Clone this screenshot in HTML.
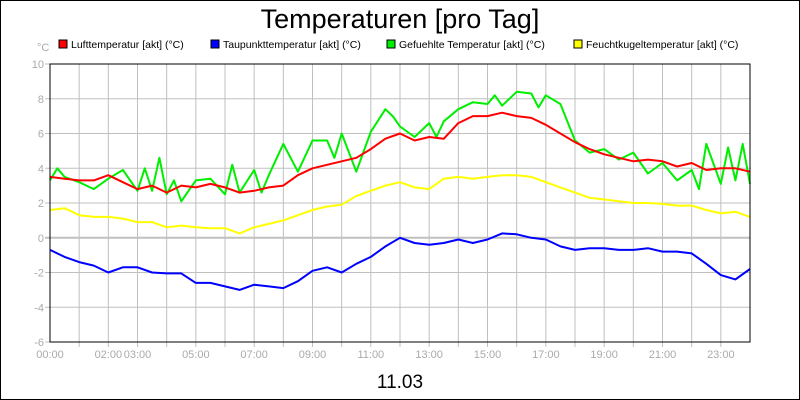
<!DOCTYPE html>
<html><head><meta charset="utf-8"><style>
html,body{margin:0;padding:0;background:#fff}
svg{display:block;font-family:"Liberation Sans",sans-serif}
</style></head><body>
<svg width="800" height="400" id="c">
<rect x="0.5" y="0.5" width="799" height="399" fill="#fff" stroke="#000"/>
<text x="400" y="28" font-size="27" text-anchor="middle">Temperaturen [pro Tag]</text>
<text x="400" y="388" font-size="19" text-anchor="middle">11.03</text>
<text x="37" y="51" font-size="11" fill="#aaa">°C</text>
<g id="grid"></g>
<g id="ticks"></g>
<g id="series"></g>
<rect x="50" y="64" width="700" height="278" fill="none" stroke="#000"/>
<g id="legend"></g>
</svg>
<script>
const yTicks=[10,8,6,4,2,0,-2,-4,-6];
const xTickHours=[0,2,3,5,7,9,11,13,15,17,19,21,23];
const xTickLabels=["00:00","02:00","03:00","05:00","07:00","09:00","11:00","13:00","15:00","17:00","19:00","21:00","23:00"];
const legendNames=["Lufttemperatur [akt] (°C)","Taupunkttemperatur [akt] (°C)","Gefuehlte Temperatur [akt] (°C)","Feuchtkugeltemperatur [akt] (°C)"];
const halfHours=[0,0.5,1,1.5,2,2.5,3,3.5,4,4.5,5,5.5,6,6.5,7,7.5,8,8.5,9,9.5,10,10.5,11,11.5,12,12.5,13,13.5,14,14.5,15,15.5,16,16.5,17,17.5,18,18.5,19,19.5,20,20.5,21,21.5,22,22.5,23,23.5,24];
const luft=[3.5,3.4,3.3,3.3,3.6,3.2,2.8,3.0,2.6,3.0,2.9,3.1,2.9,2.6,2.7,2.9,3.0,3.6,4.0,4.2,4.4,4.6,5.1,5.7,6.0,5.6,5.8,5.7,6.6,7.0,7.0,7.2,7.0,6.9,6.5,6.0,5.5,5.1,4.8,4.6,4.4,4.5,4.4,4.1,4.3,3.9,4.0,4.0,3.8];
const taupunkt=[-0.7,-1.1,-1.4,-1.6,-2.0,-1.7,-1.7,-2.0,-2.05,-2.05,-2.6,-2.6,-2.8,-3.0,-2.7,-2.8,-2.9,-2.5,-1.9,-1.7,-2.0,-1.5,-1.1,-0.5,0.0,-0.3,-0.4,-0.3,-0.1,-0.3,-0.1,0.25,0.2,0.0,-0.1,-0.5,-0.7,-0.6,-0.6,-0.7,-0.7,-0.6,-0.8,-0.8,-0.9,-1.5,-2.15,-2.4,-1.8];
const feucht=[1.6,1.7,1.3,1.2,1.2,1.1,0.9,0.9,0.6,0.7,0.6,0.55,0.55,0.25,0.6,0.8,1.0,1.3,1.6,1.8,1.9,2.4,2.7,3.0,3.2,2.9,2.8,3.4,3.5,3.4,3.5,3.6,3.6,3.5,3.2,2.9,2.6,2.3,2.2,2.1,2.0,2.0,1.95,1.85,1.85,1.6,1.4,1.5,1.2];
const gefHours=[0,0.25,0.5,1,1.5,2,2.5,3,3.25,3.5,3.75,4,4.25,4.5,5,5.5,6,6.25,6.5,7,7.25,7.5,8,8.5,9,9.5,9.75,10,10.5,11,11.5,11.75,12,12.5,13,13.25,13.5,14,14.5,15,15.25,15.5,16,16.5,16.75,17,17.5,18,18.5,19,19.5,20,20.5,21,21.5,22,22.25,22.5,23,23.25,23.5,23.75,24];
const gefuehlt=[3.3,4.0,3.5,3.2,2.8,3.4,3.9,2.7,4.0,2.7,4.6,2.5,3.3,2.1,3.3,3.4,2.5,4.2,2.6,3.9,2.6,3.6,5.4,3.8,5.6,5.6,4.6,6.0,3.8,6.1,7.4,7.0,6.4,5.8,6.6,5.8,6.7,7.4,7.8,7.7,8.2,7.6,8.4,8.3,7.5,8.2,7.7,5.6,4.9,5.1,4.5,4.9,3.7,4.3,3.3,3.9,2.8,5.4,3.1,5.2,3.3,5.4,3.1];
const X0=50,X1=750,Y0=342,Y1=64,VMIN=-6,VMAX=10;
const xs=h=>X0+h/24*(X1-X0);
const ys=v=>Y0-(v-VMIN)/(VMAX-VMIN)*(Y0-Y1);
const NS="http://www.w3.org/2000/svg";
function mk(tag,attrs,parent){const e=document.createElementNS(NS,tag);for(const k in attrs)e.setAttribute(k,attrs[k]);parent.appendChild(e);return e;}
const grid=document.getElementById('grid'),ticks=document.getElementById('ticks'),series=document.getElementById('series'),legend=document.getElementById('legend');
for(let h=1;h<24;h++){const l=mk('line',{x1:xs(h),x2:xs(h),y1:Y1,y2:Y0+5,stroke:'#c0c0c0','stroke-width':1},grid);

}
yTicks.forEach(v=>{const l=mk('line',{x1:X0-5,x2:X1,y1:ys(v),y2:ys(v),stroke:'#c0c0c0','stroke-width':v===0?2:1},grid);


const t=mk('text',{x:X0-6,y:ys(v)+4,'font-size':11,fill:'#aaa','text-anchor':'end'},ticks);t.textContent=v;

});
xTickHours.forEach((h,i)=>{const t=mk('text',{x:xs(h),y:358,'font-size':11,fill:'#aaa','text-anchor':'middle'},ticks);t.textContent=xTickLabels[i];

});
function line(hs,vals,color,name){const d=hs.map((h,i)=>(i?'L':'M')+xs(h).toFixed(1)+','+ys(vals[i]).toFixed(1)).join('');
const p=mk('path',{d:d,fill:'none',stroke:color,'stroke-width':2,'stroke-linejoin':'round'},series);

}
line(halfHours,feucht,'#ffff00','feuchtkugel-line');
line(halfHours,taupunkt,'#0000ff','taupunkt-line');
line(gefHours,gefuehlt,'#00ee00','gefuehlt-line');
line(halfHours,luft,'#ff0000','luft-line');
const lx=[59,211,387,574],lc=['#ff0000','#0000ff','#00ee00','#ffff00'];
legendNames.forEach((n,i)=>{const g=mk('g',{},legend);


mk('rect',{x:lx[i],y:40,width:8,height:8,fill:lc[i],stroke:'#000','stroke-width':1},g);
const t=mk('text',{x:lx[i]+12,y:48,'font-size':10.5},g);t.textContent=n;});
</script>
</body></html>
